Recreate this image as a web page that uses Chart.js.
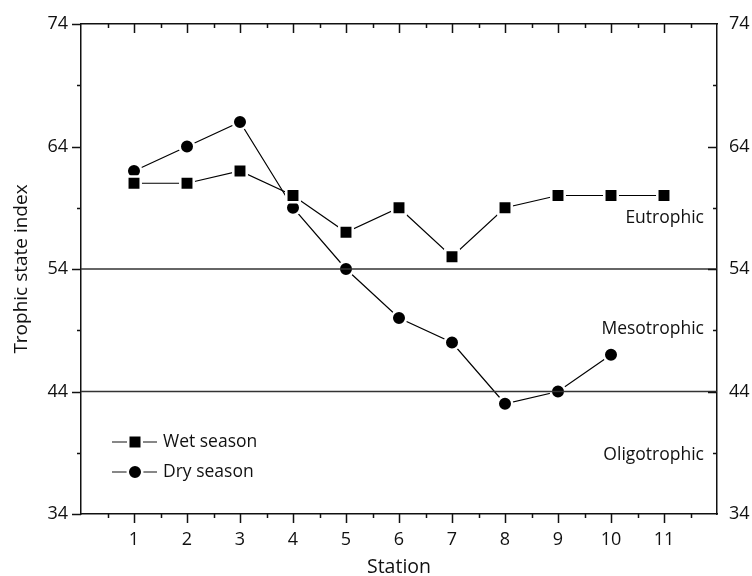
<!DOCTYPE html>
<html>
<head>
<meta charset="utf-8">
<script src="https://cdn.jsdelivr.net/npm/chart.js@4"></script>
<style>
  html, body { margin: 0; padding: 0; background: #fff; }
</style>
</head>
<body>
<canvas id="myChart" width="752" height="576"></canvas>
<script>
const stations = [1, 2, 3, 4, 5, 6, 7, 8, 9, 10, 11];
const wetSeason = [61, 61, 62, 60, 57, 59, 55, 59, 60, 60, 60];
const drySeason = [62, 64, 66, 59, 54, 50, 48, 43, 44, 47];
const yTickLabels = [34, 44, 54, 64, 74];
const boundaries = [54, 44];
const zoneNames = ['Eutrophic', 'Mesotrophic', 'Oligotrophic'];
const zoneLabelAt = [58.2, 49.1, 38.8];

const FONT = 'Open Sans';
const INK = '#111';

function toPoints(values) {
  return values.map((v, i) => ({x: stations[i], y: v}));
}

// minor/major tick marks, zone names and the legend
const extras = {
  id: 'extras',
  afterDraw(chart) {
    const ctx = chart.ctx;
    const a = chart.chartArea;
    const xs = chart.scales.x;
    const ys = chart.scales.y;
    ctx.save();
    ctx.strokeStyle = INK;
    ctx.lineWidth = 1.5;
    ctx.beginPath();
    for (let v = 0.5; v < 12; v += 0.5) {
      const px = Math.round(xs.getPixelForValue(v)) + 0.5;
      const len = Number.isInteger(v) ? 9 : 4;
      ctx.moveTo(px, a.bottom); ctx.lineTo(px, a.bottom + len);
      ctx.moveTo(px, a.top); ctx.lineTo(px, a.top + len);
    }
    for (let v = 34; v <= 74; v += 5) {
      const py = Math.round(ys.getPixelForValue(v)) + 0.5;
      const len = (v - 34) % 10 === 0 ? 9 : 4;
      ctx.moveTo(a.left - len, py); ctx.lineTo(a.left, py);
      if (v > 34 && v < 74) {
        ctx.moveTo(a.right - len, py); ctx.lineTo(a.right, py);
      }
    }
    ctx.stroke();

    ctx.fillStyle = INK;
    ctx.font = '17.5px "' + FONT + '"';
    ctx.textAlign = 'right';
    ctx.textBaseline = 'middle';
    zoneNames.forEach((name, i) => {
      ctx.fillText(name, a.right - 13, ys.getPixelForValue(zoneLabelAt[i]));
    });

    // legend
    const items = [
      {label: 'Wet season', shape: 'rect', y: 442},
      {label: 'Dry season', shape: 'circle', y: 472}
    ];
    items.forEach(it => {
      ctx.strokeStyle = INK;
      ctx.lineWidth = 1.2;
      ctx.beginPath();
      ctx.moveTo(112, it.y); ctx.lineTo(157, it.y);
      ctx.stroke();
      ctx.fillStyle = '#000';
      ctx.strokeStyle = '#fff';
      ctx.lineWidth = 2.5;
      ctx.beginPath();
      if (it.shape === 'rect') {
        ctx.rect(135 - 6.75, it.y - 6.75, 13.5, 13.5);
      } else {
        ctx.arc(135, it.y, 7.25, 0, Math.PI * 2);
      }
      ctx.fill();
      ctx.stroke();
      ctx.fillStyle = INK;
      ctx.textAlign = 'left';
      ctx.fillText(it.label, 163, it.y);
    });
    ctx.restore();
  }
};

const ctx = document.getElementById('myChart').getContext('2d');
new Chart(ctx, {
  type: 'line',
  data: {
    datasets: [
      ...boundaries.map(b => ({
        label: 'boundary ' + b,
        data: [{x: 0, y: b}, {x: 12, y: b}],
        borderColor: '#333',
        borderWidth: 1.5,
        pointRadius: 0,
        order: 0
      })),
      {
        label: 'Wet season',
        data: toPoints(wetSeason),
        borderColor: '#000',
        borderWidth: 1.2,
        pointStyle: 'rect',
        pointRadius: 9.5,
        pointBackgroundColor: '#000',
        pointBorderColor: '#fff',
        pointBorderWidth: 2.5,
        order: 1
      },
      {
        label: 'Dry season',
        data: toPoints(drySeason),
        borderColor: '#000',
        borderWidth: 1.2,
        pointStyle: 'circle',
        pointRadius: 7.25,
        pointBackgroundColor: '#000',
        pointBorderColor: '#fff',
        pointBorderWidth: 2.5,
        order: 1
      }
    ]
  },
  options: {
    responsive: false,
    animation: false,
    devicePixelRatio: 1,
    layout: {padding: 0},
    plugins: {legend: {display: false}, tooltip: {enabled: false}},
    scales: {
      x: {
        type: 'linear', position: 'bottom', min: 0, max: 12,
        grid: {display: false, drawTicks: false},
        border: {display: true, color: INK, width: 1.5},
        ticks: {
          stepSize: 0.5, autoSkip: false, maxRotation: 0, padding: 15,
          color: INK, font: {family: FONT, size: 18},
          callback: v => (Number.isInteger(v) && stations.includes(v)) ? String(v) : ''
        },
        title: {display: true, text: 'Station', color: INK, font: {family: FONT, size: 19.5}, padding: {top: 0, bottom: -3}},
        afterFit: s => { s.height = 62; }
      },
      x2: {
        type: 'linear', position: 'top', min: 0, max: 12,
        grid: {display: false, drawTicks: false},
        border: {display: true, color: INK, width: 1.5},
        ticks: {display: false},
        afterFit: s => { s.height = 24; }
      },
      y: {
        type: 'linear', position: 'left', min: 34, max: 74,
        grid: {display: false, drawTicks: false},
        border: {display: true, color: INK, width: 1.5},
        ticks: {
          stepSize: 5, padding: 13, color: INK, font: {family: FONT, size: 18},
          callback: v => yTickLabels.includes(v) ? String(v) : ''
        },
        title: {display: true, text: 'Trophic state index', color: INK, font: {family: FONT, size: 19}, padding: {top: 10, bottom: 0}},
        afterFit: s => { s.width = 81; }
      },
      y2: {
        type: 'linear', position: 'right', min: 34, max: 74,
        grid: {display: false, drawTicks: false},
        border: {display: true, color: INK, width: 1.5},
        ticks: {
          stepSize: 5, padding: 12, color: INK, font: {family: FONT, size: 18},
          callback: v => yTickLabels.includes(v) ? String(v) : ''
        },
        afterFit: s => { s.width = 35; }
      }
    }
  },
  plugins: [extras]
});
</script>
</body>
</html>
